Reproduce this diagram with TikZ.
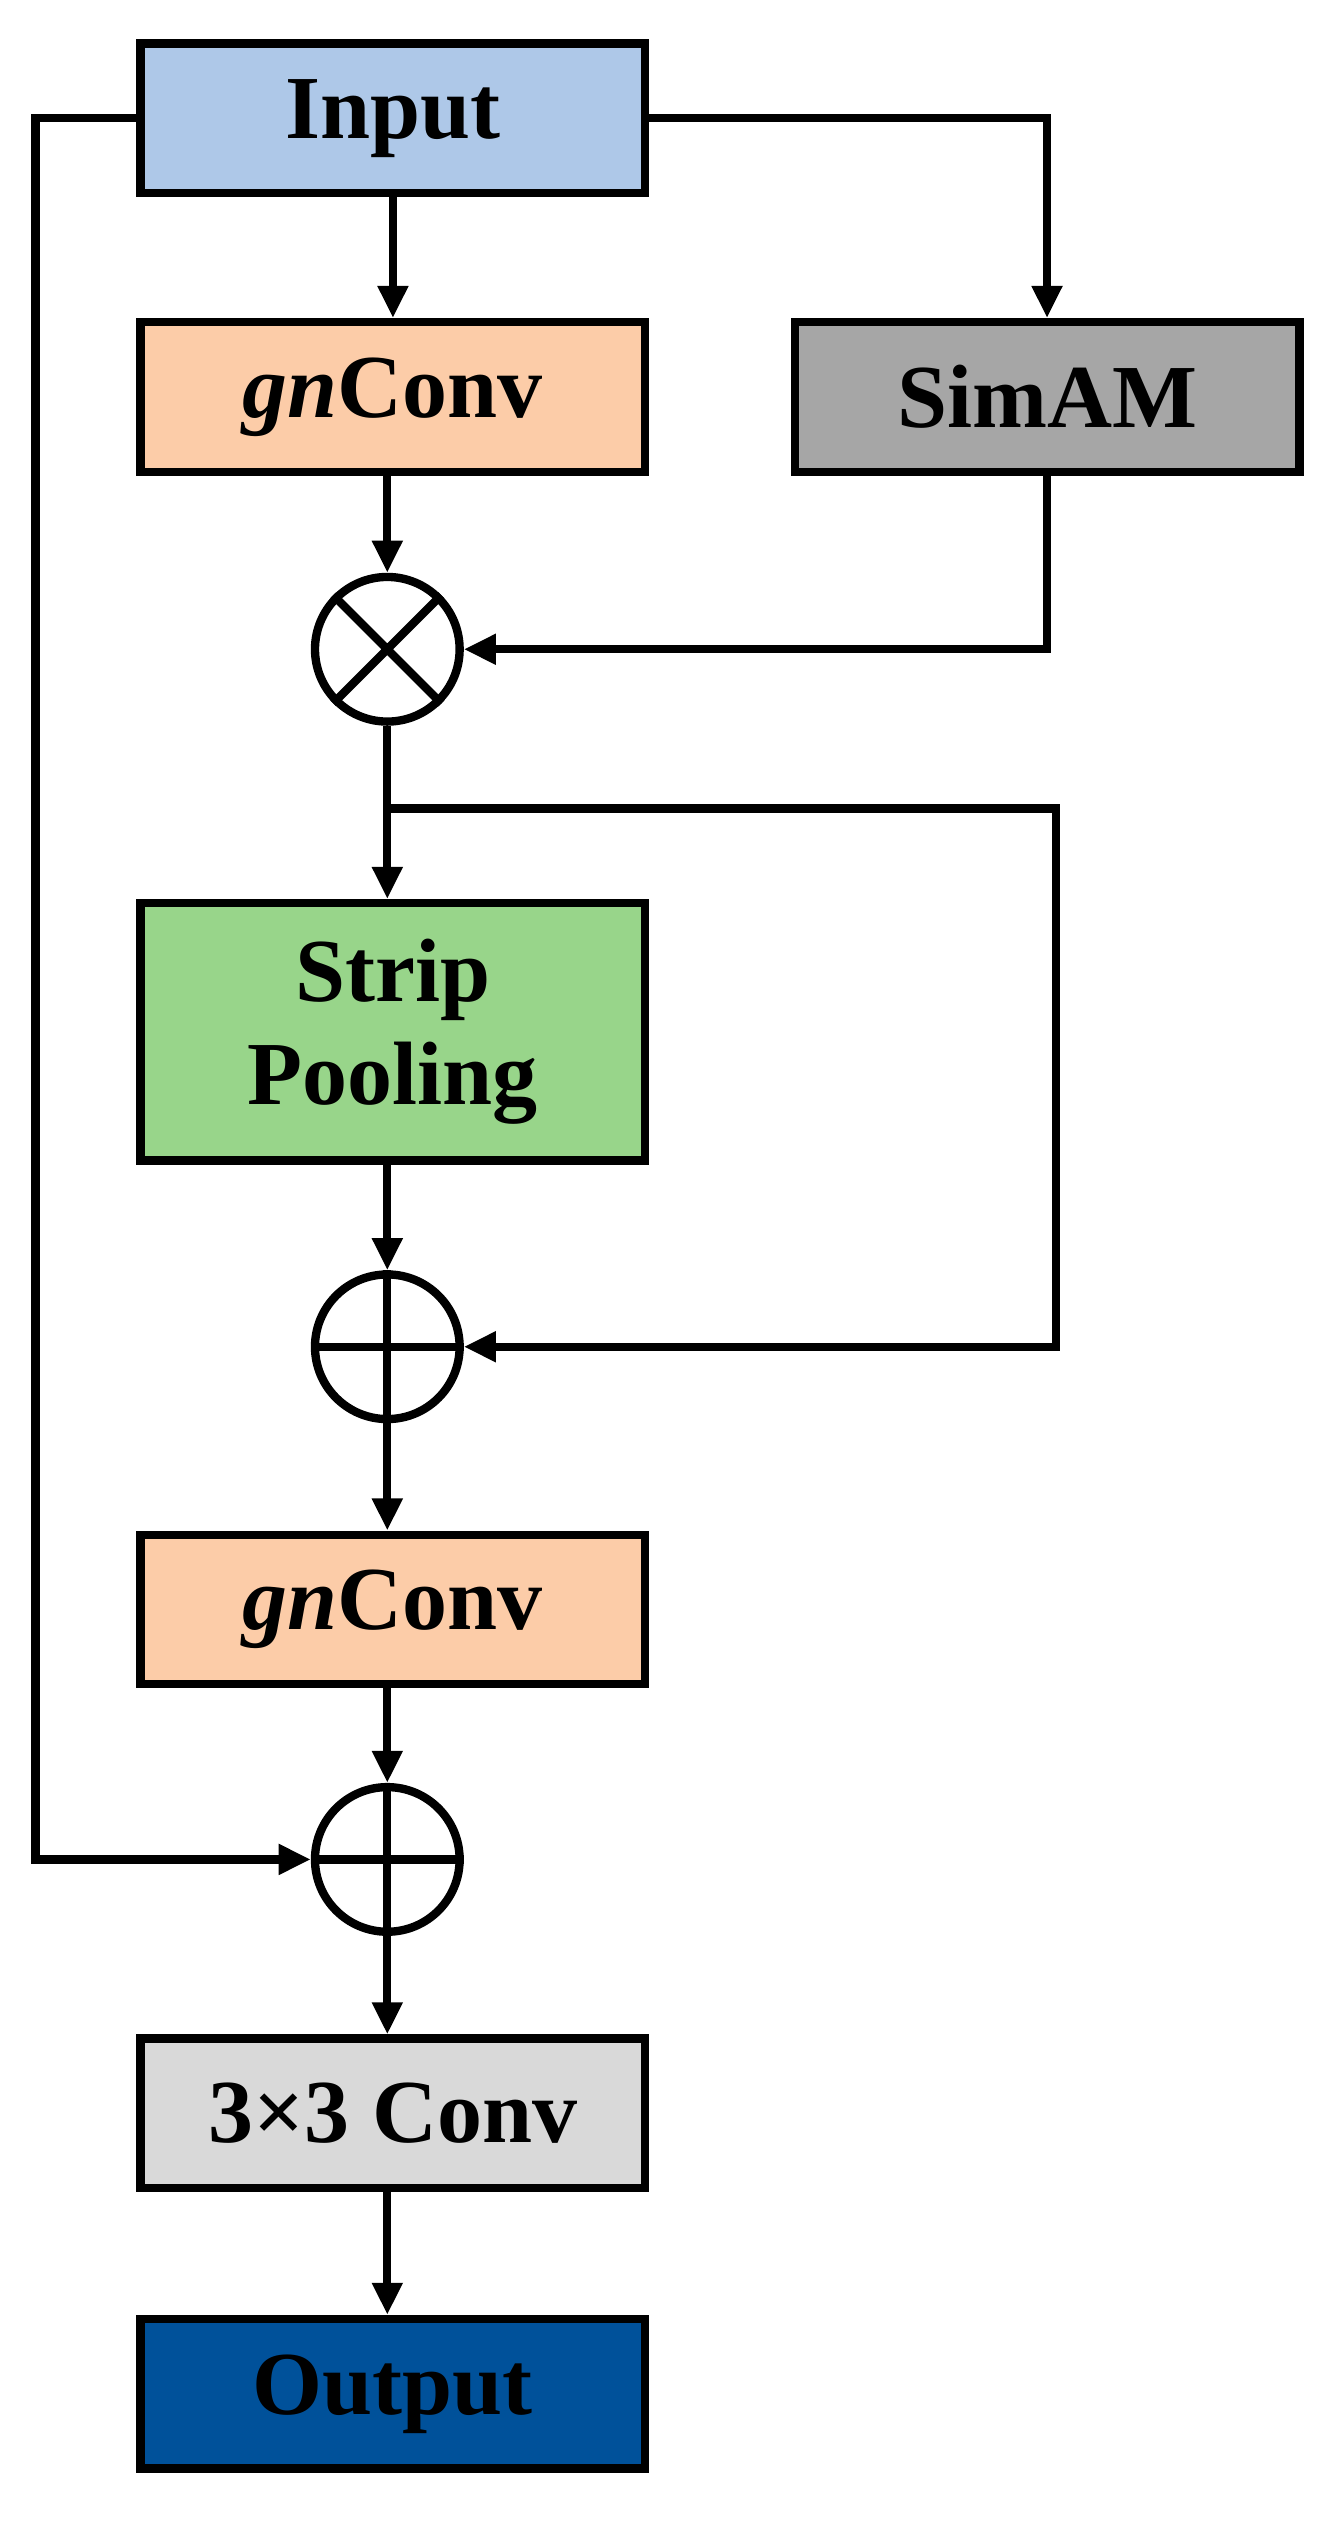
\documentclass[tikz,border=0pt]{standalone}
\usepackage{fontspec}
\setmainfont{Liberation Serif}
\usetikzlibrary{arrows.meta}
\definecolor{cin}{HTML}{AEC8E8}
\definecolor{cgn}{HTML}{FCCCA8}
\definecolor{csim}{HTML}{A6A6A6}
\definecolor{csp}{HTML}{98D58A}
\definecolor{ccv}{HTML}{D9D9D9}
\definecolor{cout}{HTML}{00519A}
\begin{document}
\begin{tikzpicture}[x=0.5pt,y=-0.5pt,line width=2.6pt,
 box/.style={draw,minimum width=157pt,minimum height=46.5pt,inner sep=0pt,font=\fontsize{28}{32}\selectfont\bfseries,align=center},
 circ/.style={draw,circle,minimum size=45pt,inner sep=0pt},
 arr/.style={-{Triangle[length=10pt,width=9pt]}}]
\useasboundingbox (0,0) rectangle (830,1578);
\node[box,fill=cin] (in) at (244.5,73.5) {Input};
\node[box,fill=cgn] (g1) at (244.5,247) {\textit{gn}Conv};
\node[box,fill=csim] (sim) at (651.5,247) {SimAM};
\node[circ] (m) at (241,404) {};
\draw (m.north west)--(m.south east) (m.north east)--(m.south west);
\node[box,fill=csp,minimum height=80pt] (sp) at (244.5,642) {Strip\\Pooling};
\node[circ] (a1) at (241,838) {};
\draw (a1.north)--(a1.south) (a1.west)--(a1.east);
\node[box,fill=cgn] (g2) at (244.5,1001.5) {\textit{gn}Conv};
\node[circ] (a2) at (241,1157) {};
\draw (a2.north)--(a2.south) (a2.west)--(a2.east);
\node[box,fill=ccv] (cv) at (244.5,1315) {3×3 Conv};
\node[box,fill=cout] (out) at (244.5,1489.5) {Output};
\coordinate (br) at (241,503);
\draw[arr] (in.south -| g1.north) -- (g1.north);
\draw[arr] (in.east) -| (sim.north);
\draw[arr] (sim.south) |- (m.east);
\draw[arr] (g1.south -| m.north) -- (m.north);
\draw (m.south) -- (br);
\draw[arr] (br) -- (sp.north -| br);
\draw[arr] (br) -- (657,503) |- (a1.east);
\draw[arr] (sp.south -| a1.north) -- (a1.north);
\draw[arr] (a1.south) -- (g2.north -| a1.south);
\draw[arr] (g2.south -| a2.north) -- (a2.north);
\draw[arr] (in.west) -- (22,73.5) |- (a2.west);
\draw[arr] (a2.south) -- (cv.north -| a2.south);
\draw[arr] (cv.south -| a2.south) -- (out.north -| a2.south);
\end{tikzpicture}
\end{document}
